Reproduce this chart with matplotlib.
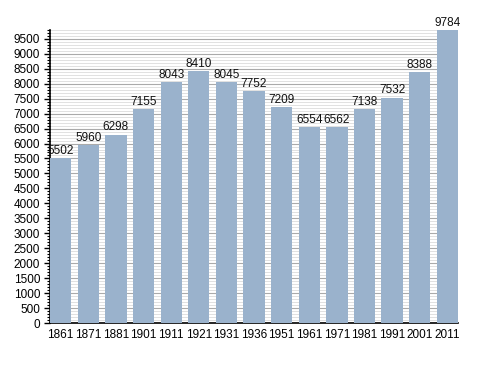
import numpy as np
import matplotlib
matplotlib.use('Agg')
import matplotlib.pyplot as plt
from matplotlib.ticker import MultipleLocator

years = ['1861', '1871', '1881', '1901', '1911', '1921', '1931', '1936',
         '1951', '1961', '1971', '1981', '1991', '2001', '2011']
population = [5502, 5960, 6298, 7155, 8043, 8410, 8045, 7752,
              7209, 6554, 6562, 7138, 7532, 8388, 9784]

plt.rcParams['font.family'] = ['Liberation Sans', 'DejaVu Sans']

fig = plt.figure(figsize=(4.88, 3.73), dpi=100)
ax = fig.add_axes([0.1025, 0.134, 0.836, 0.786])

x = np.arange(len(years))
bars = ax.bar(x, population, width=0.77, color='#9ab2cc', zorder=3)

# valeurs au-dessus des barres
for xi, v in zip(x, population):
    ax.text(xi, v + 40, str(v), ha='center', va='bottom', fontsize=8.5, color='#111111', zorder=4)

ax.set_xlim(-0.385, 14.385)
ax.set_ylim(0, 9800)
ax.set_xticks(x)
ax.set_xticklabels(years, fontsize=8.5)
ax.yaxis.set_major_locator(MultipleLocator(500))
ax.yaxis.set_minor_locator(MultipleLocator(100))
ax.tick_params(axis='y', which='major', labelsize=8.5, length=4, width=1, pad=3)
ax.tick_params(axis='y', which='minor', length=2, width=0.8)
ax.tick_params(axis='x', length=0, pad=4)

ax.grid(axis='y', which='major', color='#aaaaaa', linewidth=0.8, zorder=1)
ax.grid(axis='y', which='minor', color='#dcdcdc', linewidth=0.6, zorder=0)

for s in ['top', 'right']:
    ax.spines[s].set_visible(False)
ax.spines['left'].set_linewidth(1.2)
ax.spines['bottom'].set_linewidth(1.2)

fig.savefig('out.png', dpi=100)
